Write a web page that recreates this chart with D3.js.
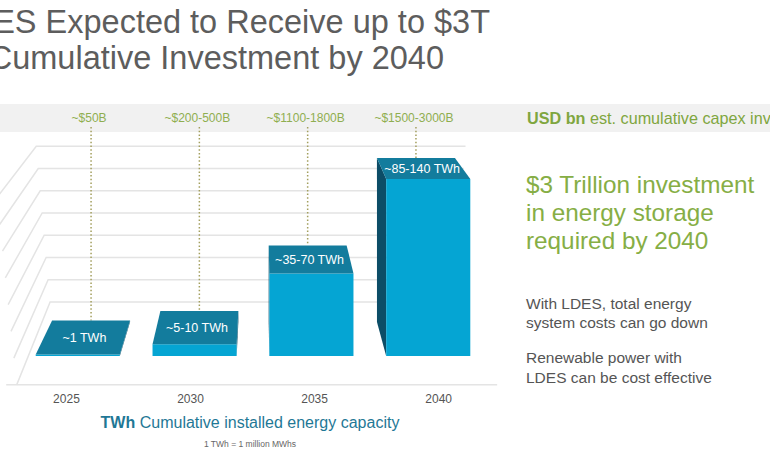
<!DOCTYPE html>
<html>
<head>
<meta charset="utf-8">
<script src="https://cdn.jsdelivr.net/npm/d3@7"></script>
<style>
  body { margin: 0; background: #fff; }
  svg { display: block; font-family: "Liberation Sans", Arial, sans-serif; }
</style>
</head>
<body>
<div id="chart"></div>
<script>
// data
var years = ["2025", "2030", "2035", "2040"];
var twhLow = [1, 5, 35, 85];
var twhHigh = [1, 10, 70, 140];
var twhLabels = ["~1 TWh", "~5-10 TWh", "~35-70 TWh", "~85-140 TWh"];
var capexLabels = ["~$50B", "~$200-500B", "~$1100-1800B", "~$1500-3000B"];
var gridTicks = [0, 16, 32, 48, 64, 80, 96, 112];

var svgWidth = 770, svgHeight = 462;

var svg = d3.select("#chart").append("svg")
  .attr("width", svgWidth)
  .attr("height", svgHeight);

// simple perspective: floor front at y0, depth lines run to (vx, vy)
var y0 = 356, vx = 260, vy = -109.5;
var barDepth = 0.073, wallDepth = 0.116, frontDepth = -0.062;
// vertical lines of the grid lean in towards a point far below
var cx = 265, vyy = 2720;

function proj(x, h, d) {
  var sy = y0 - h;
  return [x + d * (vx - x), sy + d * (vy - sy)];
}
function warp(p) {
  return [cx + (p[0] - cx) * (vyy - p[1]) / (vyy - y0), p[1]];
}

var xScale = d3.scaleBand()
  .domain(years)
  .range([3, 503])
  .paddingInner(0.28)
  .paddingOuter(0.28);

var yScale = d3.scaleLinear()
  .domain([0, 112.5])
  .range([0, 177]);

// title (cut off on the left, as in the slide)
var title = svg.append("g").attr("fill", "#5d5d5d").attr("font-size", 32.5);
title.append("text").attr("x", 490).attr("y", 33).attr("text-anchor", "end")
  .text("LDES Expected to Receive up to $3T");
title.append("text").attr("x", 444).attr("y", 69).attr("text-anchor", "end")
  .text("Cumulative Investment by 2040");

// grey band with capex labels
svg.append("rect")
  .attr("x", 0).attr("y", 104)
  .attr("width", svgWidth).attr("height", 28)
  .attr("fill", "#f1f1f1");

// grid: back wall, left wall and floor
var wallLeft = 28, wallRight = 474;
var gridGroup = svg.append("g")
  .attr("stroke", "#e4e4e4")
  .attr("stroke-width", 1.5)
  .attr("fill", "none");
var line = d3.line();

gridTicks.forEach(function(t) {
  var h = yScale(t) * 1.0;
  var a = warp(proj(wallLeft, h, wallDepth));
  var b = warp(proj(wallRight, h, wallDepth));
  var c = warp(proj(wallLeft, h, frontDepth));
  gridGroup.append("path").attr("d", line([c, a, b]));
});
gridGroup.append("path").attr("d", line([
  warp(proj(wallLeft - 10, 0, frontDepth)),
  warp(proj(wallRight + 12, 0, frontDepth))
]));

var bars = years.map(function(year, i) {
  var mid = (twhLow[i] + twhHigh[i]) / 2;
  return {
    year: year,
    x0: xScale(year),
    x1: xScale(year) + xScale.bandwidth(),
    h: yScale(mid),
    label: twhLabels[i],
    capex: capexLabels[i]
  };
});

// dotted leaders from the band down to each bar
var dots = svg.append("g")
  .attr("stroke", "#a39f5e")
  .attr("stroke-width", 1.5)
  .attr("stroke-dasharray", "1.5,2.2");
bars.forEach(function(d) {
  var p = proj((d.x0 + d.x1) / 2, d.h, barDepth);
  d.lx = p[0];
  dots.append("line")
    .attr("x1", p[0]).attr("x2", p[0])
    .attr("y1", 127).attr("y2", p[1]);
});

svg.append("g").selectAll("text")
  .data(bars)
  .enter()
  .append("text")
  .attr("x", d => d.lx - 2)
  .attr("y", 122)
  .attr("text-anchor", "middle")
  .attr("font-size", 12)
  .attr("fill", "#8fae50")
  .text(d => d.capex);

// bars
var barGroup = svg.append("g");
bars.forEach(function(d) {
  var g = barGroup.append("g");
  var fl = proj(d.x0, 0, 0), fr = proj(d.x1, 0, 0);
  var tl = proj(d.x0, d.h, 0), tr = proj(d.x1, d.h, 0);
  var bl = proj(d.x0, d.h, barDepth), br = proj(d.x1, d.h, barDepth);
  if (d.x0 > vx) {
    g.append("path").attr("fill", "#0c4d67")
      .attr("d", line([fl, tl, bl, proj(d.x0, 0, barDepth)]) + "Z");
  }
  if (d.x1 < vx) {
    g.append("path").attr("fill", "#0c4d67")
      .attr("d", line([fr, tr, br, proj(d.x1, 0, barDepth)]) + "Z");
  }
  g.append("path").attr("fill", "#05a5d3")
    .attr("d", line([fl, fr, tr, tl]) + "Z");
  g.append("path").attr("fill", "#137c9d")
    .attr("d", line([tl, tr, br, bl]) + "Z");
  g.append("text")
    .attr("x", (tl[0] + tr[0] + bl[0] + br[0]) / 4)
    .attr("y", (tl[1] + bl[1]) / 2 + 4.5)
    .attr("text-anchor", "middle")
    .attr("font-size", 12.5)
    .attr("fill", "#ffffff")
    .text(d.label);
});

// year labels along the floor front edge
svg.append("g").selectAll("text")
  .data(bars)
  .enter()
  .append("text")
  .attr("x", d => proj((d.x0 + d.x1) / 2, 0, frontDepth)[0])
  .attr("y", 403)
  .attr("text-anchor", "middle")
  .attr("font-size", 12)
  .attr("fill", "#555")
  .text(d => d.year);

var axisTitle = svg.append("text")
  .attr("x", 250).attr("y", 428)
  .attr("text-anchor", "middle")
  .attr("font-size", 16)
  .attr("fill", "#1f7896");
axisTitle.append("tspan").attr("font-weight", "bold").text("TWh");
axisTitle.append("tspan").text(" Cumulative installed energy capacity");

svg.append("text")
  .attr("x", 250).attr("y", 447)
  .attr("text-anchor", "middle")
  .attr("font-size", 8.5)
  .attr("fill", "#666")
  .text("1 TWh = 1 million MWhs");

// right-hand notes (unit line runs off the right edge, as in the slide)
var unit = svg.append("text")
  .attr("x", 527).attr("y", 124)
  .attr("font-size", 16.2)
  .attr("fill", "#7fa63f");
unit.append("tspan").attr("font-weight", "bold").text("USD bn");
unit.append("tspan").text(" est. cumulative capex investment");

var headline = ["$3 Trillion investment", "in energy storage", "required by 2040"];
svg.append("g").selectAll("text")
  .data(headline)
  .enter()
  .append("text")
  .attr("x", 526)
  .attr("y", (d, i) => 193 + i * 28)
  .attr("font-size", 24.3)
  .attr("fill", "#86ae45")
  .text(d => d);

var notes = ["With LDES, total energy", "system costs can go down",
             "Renewable power with", "LDES can be cost effective"];
var noteY = [309, 328, 363, 383];
svg.append("g").selectAll("text")
  .data(notes)
  .enter()
  .append("text")
  .attr("x", 526)
  .attr("y", (d, i) => noteY[i])
  .attr("font-size", 15.5)
  .attr("fill", "#555")
  .text(d => d);
</script>
</body>
</html>
